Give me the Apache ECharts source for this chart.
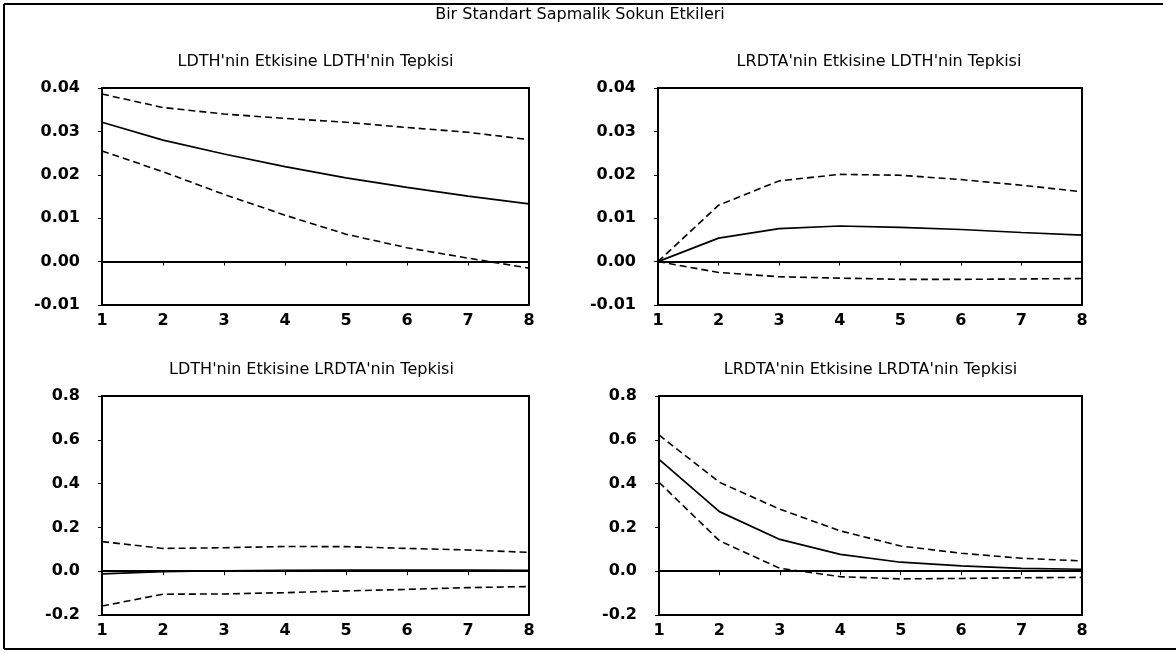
<!DOCTYPE html>
<html>
<head>
<meta charset="utf-8">
<title>Bir Standart Sapmalik Sokun Etkileri</title>
<script src="https://cdn.jsdelivr.net/npm/echarts@6.0.0/dist/echarts.min.js"></script>
<style>
  html, body { margin: 0; padding: 0; background: #fff; }
  #chart { width: 1176px; height: 652px; }
</style>
</head>
<body>
<div id="chart"></div>
<script>
// periods after the shock
const steps = ['1', '2', '3', '4', '5', '6', '7', '8']

// LDTH'nin Etkisine LDTH'nin Tepkisi
const ldthLdth   = [0.0321, 0.0280, 0.0248, 0.0219, 0.0193, 0.0171, 0.0151, 0.0133]
const ldthLdthUp = [0.0386, 0.0355, 0.0340, 0.0330, 0.0321, 0.0309, 0.0298, 0.0281]
const ldthLdthLo = [0.0255, 0.0207, 0.0155, 0.0107, 0.0063, 0.0032, 0.0008, -0.0015]

// LRDTA'nin Etkisine LDTH'nin Tepkisi
const lrdtaLdth   = [0, 0.0054, 0.0076, 0.0082, 0.0079, 0.0074, 0.0067, 0.0061]
const lrdtaLdthUp = [0, 0.0130, 0.0186, 0.0201, 0.0199, 0.0189, 0.0176, 0.0161]
const lrdtaLdthLo = [0, -0.0025, -0.0035, -0.0038, -0.0041, -0.0041, -0.0040, -0.0039]

// LDTH'nin Etkisine LRDTA'nin Tepkisi
const ldthLrdta   = [-0.012, -0.002, 0.002, 0.004, 0.005, 0.005, 0.005, 0.004]
const ldthLrdtaUp = [0.135, 0.104, 0.107, 0.113, 0.112, 0.104, 0.097, 0.086]
const ldthLrdtaLo = [-0.159, -0.105, -0.104, -0.098, -0.090, -0.083, -0.075, -0.070]

// LRDTA'nin Etkisine LRDTA'nin Tepkisi
const lrdtaLrdta   = [0.511, 0.272, 0.145, 0.077, 0.041, 0.024, 0.013, 0.009]
const lrdtaLrdtaUp = [0.622, 0.406, 0.283, 0.184, 0.115, 0.082, 0.059, 0.047]
const lrdtaLrdtaLo = [0.406, 0.139, 0.013, -0.025, -0.035, -0.033, -0.030, -0.028]

// y scales: [min, max, interval, decimals]
const smallScale = [-0.01, 0.04, 0.01, 2]
const largeScale = [-0.2, 0.8, 0.2, 1]

const mainTitle = 'Bir Standart Sapmalik Sokun Etkileri'
const panelTitles = [
  "LDTH'nin Etkisine LDTH'nin Tepkisi",
  "LRDTA'nin Etkisine LDTH'nin Tepkisi",
  "LDTH'nin Etkisine LRDTA'nin Tepkisi",
  "LRDTA'nin Etkisine LRDTA'nin Tepkisi"
]

const FONT = '"DejaVu Sans", sans-serif'

const panels = [
  { grid: { left: 102, top: 88, width: 427, height: 217 }, titleDx: 0, scale: smallScale, mid: ldthLdth, up: ldthLdthUp, lo: ldthLdthLo },
  { grid: { left: 658, top: 88, width: 424, height: 217 }, titleDx: 9, scale: smallScale, mid: lrdtaLdth, up: lrdtaLdthUp, lo: lrdtaLdthLo },
  { grid: { left: 102, top: 396, width: 427, height: 219 }, titleDx: -4, scale: largeScale, mid: ldthLrdta, up: ldthLrdtaUp, lo: ldthLrdtaLo },
  { grid: { left: 659, top: 396, width: 423, height: 219 }, titleDx: 0, scale: largeScale, mid: lrdtaLrdta, up: lrdtaLrdtaUp, lo: lrdtaLrdtaLo }
]

const chart = echarts.init(document.getElementById('chart'))

const grids = [], xAxes = [], yAxes = [], series = [], texts = []
const labelStyle = { color: '#000', fontSize: 16, fontWeight: 'bold', fontFamily: FONT }

panels.forEach((p, i) => {
  grids.push(Object.assign({ show: true, borderColor: '#000', borderWidth: 2, backgroundColor: 'transparent' }, p.grid))

  xAxes.push({
    gridIndex: i,
    type: 'category',
    data: steps,
    boundaryGap: false,
    axisLine: { lineStyle: { color: '#000', width: 2 } },
    axisTick: { length: 4, alignWithLabel: true, lineStyle: { color: '#000' } },
    axisLabel: Object.assign({ margin: 8 }, labelStyle),
    splitLine: { show: false }
  })

  const [min, max, interval, digits] = p.scale
  yAxes.push({
    gridIndex: i,
    type: 'value',
    min, max, interval,
    axisLine: { show: true, lineStyle: { color: '#000', width: 2 } },
    axisTick: { show: true, length: 4, lineStyle: { color: '#000' } },
    axisLabel: Object.assign({ margin: 22, formatter: v => v.toFixed(digits) }, labelStyle),
    splitLine: { show: false }
  })

  series.push({
    type: 'line', xAxisIndex: i, yAxisIndex: i, data: p.mid,
    symbol: 'none', lineStyle: { color: '#000', width: 1.7 },
    markLine: {
      silent: true, symbol: 'none', label: { show: false },
      lineStyle: { color: '#000', type: 'solid', width: 1.7 },
      data: [{ yAxis: 0 }]
    }
  })
  series.push({
    type: 'line', xAxisIndex: i, yAxisIndex: i, data: p.up,
    symbol: 'none', lineStyle: { color: '#000', width: 1.6, type: [7, 4] }
  })
  series.push({
    type: 'line', xAxisIndex: i, yAxisIndex: i, data: p.lo,
    symbol: 'none', lineStyle: { color: '#000', width: 1.6, type: [7, 4] }
  })

  texts.push({
    type: 'text',
    x: p.grid.left + p.grid.width / 2 + p.titleDx,
    y: p.grid.top - 26,
    style: { text: panelTitles[i], font: '16px ' + FONT, fill: '#000', align: 'center', verticalAlign: 'middle' }
  })
})

chart.setOption({
  animation: false,
  backgroundColor: '#fff',
  grid: grids,
  xAxis: xAxes,
  yAxis: yAxes,
  series: series,
  graphic: [
    // outer frame of the figure
    { type: 'line', shape: { x1: 4, y1: 4, x2: 1163, y2: 4 }, style: { stroke: '#000', lineWidth: 2 } },
    { type: 'line', shape: { x1: 4, y1: 4, x2: 4, y2: 649 }, style: { stroke: '#000', lineWidth: 2 } },
    { type: 'line', shape: { x1: 4, y1: 649, x2: 1176, y2: 649 }, style: { stroke: '#000', lineWidth: 2 } },
    {
      type: 'text', x: 580, y: 15,
      style: { text: mainTitle, font: '16px ' + FONT, fill: '#000', align: 'center', verticalAlign: 'middle' }
    }
  ].concat(texts)
})
</script>
</body>
</html>
